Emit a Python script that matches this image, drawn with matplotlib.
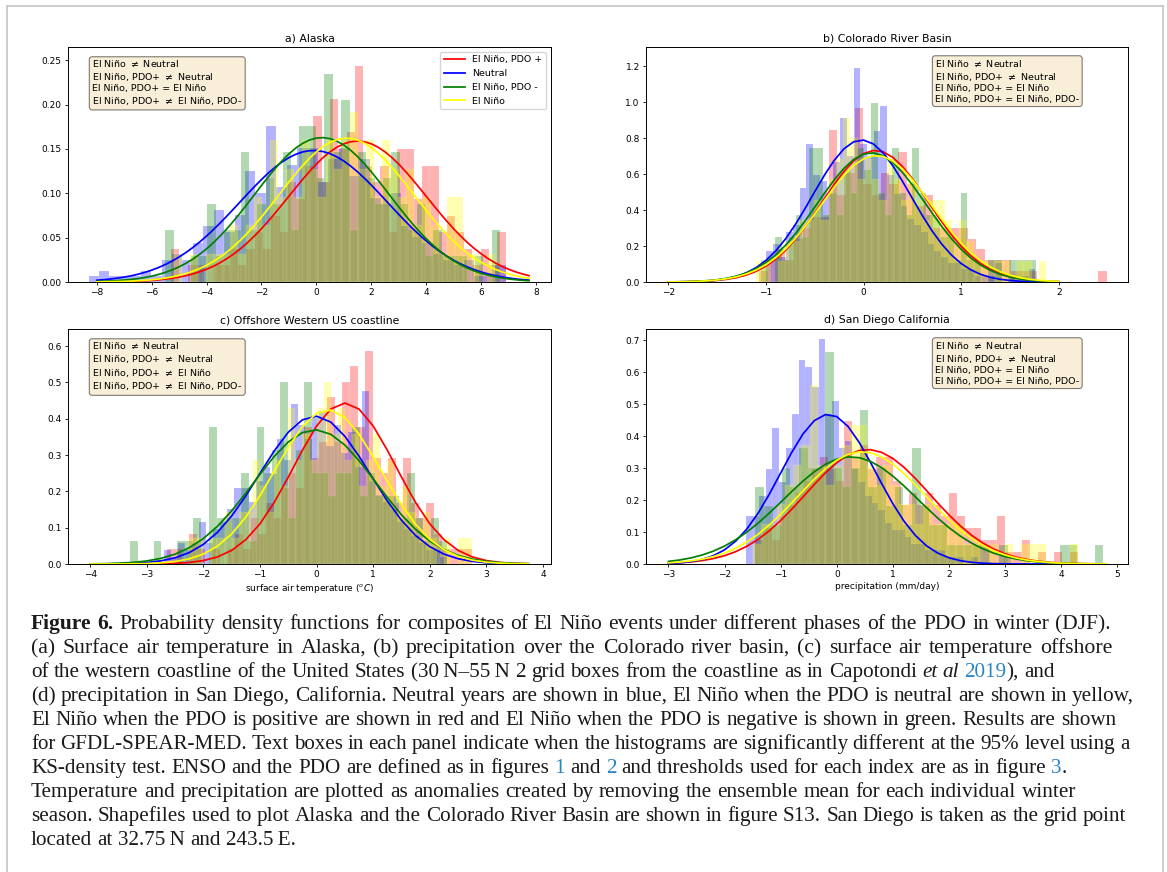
import re

import matplotlib
matplotlib.use("Agg")
import numpy as np
import matplotlib.pyplot as plt
from matplotlib.lines import Line2D


W_PX, H_PX = 1167, 872

SERIES_COLORS = ["red", "blue", "green", "yellow"]
LEGEND_LABELS = ["El Niño, PDO +", "Neutral", "El Niño, PDO -", "El Niño"]

# histogram counts (40 bins over each series' own range), order: red, blue, green, yellow
# a) Alaska
A_RED_LIM = (-5.3, 6.9)
A_RED = [2, 0, 1, 1, 0, 1, 1, 2, 1, 2, 3, 2, 4, 3, 6, 5, 7, 10, 6, 11,
         8, 9, 13, 7, 6, 7, 3, 8, 8, 5, 7, 7, 3, 4, 3, 2, 1, 2, 1, 3]
A_BLUE_LIM = (-8.3, 6.9)
A_BLUE = [1, 2, 1, 1, 1, 2, 1, 4, 5, 4, 7, 10, 13, 9, 12, 20, 16, 28, 17, 21,
          24, 24, 18, 22, 24, 19, 22, 15, 14, 16, 10, 8, 7, 5, 4, 3, 4, 1, 1, 3]
A_GREEN_LIM = (-5.5, 6.7)
A_GREEN = [2, 0, 0, 1, 1, 3, 1, 2, 2, 5, 2, 3, 4, 3, 5, 2, 6, 6, 4, 8,
           5, 7, 2, 5, 4, 3, 4, 5, 3, 2, 3, 1, 2, 1, 1, 1, 0, 1, 0, 2]
A_YELLOW_LIM = (-5.2, 6.5)
A_YELLOW = [1, 0, 1, 0, 1, 1, 1, 2, 1, 2, 3, 2, 5, 3, 4, 3, 5, 4, 3, 5,
            4, 5, 6, 4, 5, 3, 5, 4, 3, 4, 2, 3, 2, 1, 3, 3, 1, 1, 0, 1]
A_MEAN = [1.5, -0.1, 0.2, 1.1]
A_STD = [2.51, 2.69, 2.45, 2.46]

# b) Colorado River Basin
B_RED_LIM = (-1.07, 2.49)
B_RED = [1, 2, 3, 2, 4, 5, 6, 6, 14, 8, 10, 16, 9, 8, 10, 9, 12, 9, 7, 8,
         5, 5, 5, 5, 4, 3, 2, 2, 2, 1, 1, 1, 0, 0, 0, 0, 0, 0, 0, 1]
B_BLUE_LIM = (-1.0, 1.76)
B_BLUE = [5, 6, 4, 8, 9, 15, 22, 17, 16, 14, 19, 26, 20, 34, 22, 20, 24, 28, 17, 14,
          12, 10, 9, 8, 6, 5, 4, 3, 3, 2, 2, 1, 1, 1, 3, 0, 1, 0, 1, 2]
B_GREEN_LIM = (-1.05, 1.77)
B_GREEN = [1, 0, 2, 1, 2, 3, 2, 6, 6, 3, 4, 3, 5, 4, 6, 5, 8, 4, 3, 6,
           4, 3, 6, 4, 3, 3, 2, 2, 1, 4, 1, 1, 0, 1, 1, 0, 1, 1, 1, 1]
B_YELLOW_LIM = (-1.1, 1.87)
B_YELLOW = [1, 1, 0, 1, 2, 2, 3, 3, 4, 3, 5, 6, 8, 7, 5, 6, 5, 4, 6, 5,
            4, 5, 4, 3, 4, 4, 3, 2, 3, 2, 1, 1, 0, 1, 1, 0, 1, 1, 0, 1]
B_MEAN = [0.12, -0.02, 0.08, 0.13]
B_STD = [0.545, 0.505, 0.555, 0.567]

# c) Offshore Western US coastline
C_RED_LIM = (-2.65, 2.75)
C_RED = [1, 1, 0, 2, 1, 0, 1, 0, 1, 2, 1, 3, 2, 4, 3, 5, 6, 5, 9, 7,
         8, 11, 8, 12, 13, 9, 14, 7, 6, 7, 4, 7, 4, 3, 4, 2, 1, 1, 1, 1]
C_BLUE_LIM = (-2.7, 2.3)
C_BLUE = [2, 1, 3, 2, 3, 6, 3, 5, 6, 8, 11, 11, 9, 12, 14, 13, 18, 15, 23, 20,
          18, 21, 22, 17, 20, 16, 19, 14, 25, 12, 10, 9, 8, 6, 5, 4, 3, 2, 2, 1]
C_GREEN_LIM = (-3.3, 2.3)
C_GREEN = [1, 0, 0, 1, 0, 0, 1, 1, 2, 0, 6, 2, 2, 2, 4, 1, 6, 4, 5, 8,
           2, 5, 8, 4, 4, 3, 4, 4, 6, 3, 4, 3, 3, 3, 2, 4, 2, 1, 2, 1]
C_YELLOW_LIM = (-2.25, 2.75)
C_YELLOW = [1, 1, 0, 1, 1, 2, 1, 2, 2, 4, 3, 2, 4, 3, 6, 4, 5, 4, 6, 7,
            5, 6, 4, 5, 3, 4, 5, 3, 4, 2, 3, 2, 1, 2, 1, 0, 1, 0, 1, 1]
C_MEAN = [0.5, -0.03, -0.03, 0.2]
C_STD = [0.90, 0.98, 1.08, 0.94]

# d) San Diego California
D_RED_LIM = (-1.45, 4.3)
D_RED = [2, 3, 2, 4, 5, 6, 7, 8, 9, 8, 7, 12, 9, 10, 8, 9, 9, 7, 5, 6,
         5, 6, 5, 4, 6, 4, 3, 3, 2, 2, 4, 1, 1, 2, 0, 1, 0, 1, 0, 1]
D_BLUE_LIM = (-1.62, 3.1)
D_BLUE = [7, 7, 10, 14, 20, 12, 17, 22, 30, 29, 26, 33, 22, 24, 17, 18, 14, 12, 10, 9,
          8, 6, 5, 5, 4, 3, 3, 2, 2, 2, 1, 1, 1, 0, 1, 0, 0, 0, 0, 1]
D_GREEN_LIM = (-1.45, 4.75)
D_GREEN = [4, 3, 2, 5, 4, 6, 5, 5, 11, 5, 4, 5, 8, 4, 5, 3, 4, 2, 6, 3,
           2, 2, 1, 1, 1, 1, 1, 0, 1, 0, 0, 0, 0, 0, 0, 1, 1, 0, 0, 1]
D_YELLOW_LIM = (-1.5, 4.3)
D_YELLOW = [1, 2, 2, 3, 4, 5, 6, 9, 5, 4, 5, 6, 7, 7, 5, 4, 5, 4, 3, 3,
            2, 3, 2, 2, 2, 2, 1, 1, 0, 1, 0, 1, 0, 1, 1, 1, 0, 0, 0, 1]
D_MEAN = [0.55, -0.15, 0.25, 0.45]
D_STD = [1.114, 0.852, 1.19, 1.136]

NE = "$\\neq$"
A_NOTES = [f"El Niño {NE} Neutral", f"El Niño, PDO+ {NE} Neutral",
           "El Niño, PDO+ = El Niño", f"El Niño, PDO+ {NE} El Niño, PDO-"]
B_NOTES = [f"El Niño {NE} Neutral", f"El Niño, PDO+ {NE} Neutral",
           "El Niño, PDO+ = El Niño", "El Niño, PDO+ = El Niño, PDO-"]
C_NOTES = [f"El Niño {NE} Neutral", f"El Niño, PDO+ {NE} Neutral",
           f"El Niño, PDO+ {NE} El Niño", f"El Niño, PDO+ {NE} El Niño, PDO-"]
D_NOTES = [f"El Niño {NE} Neutral", f"El Niño, PDO+ {NE} Neutral",
           "El Niño, PDO+ = El Niño", "El Niño, PDO+ = El Niño, PDO-"]

CAPTION_FONT = "Liberation Serif"
LINK = "#2a86c0"
CAPTION = [
    [("Figure 6.", {"weight": "bold"}),
     (" Probability density functions for composites of El Niño events under different "
      "phases of the PDO in winter (DJF).", {})],
    [("(a) Surface air temperature in Alaska, (b) precipitation over the Colorado river "
      "basin, (c) surface air temperature offshore", {})],
    [("of the western coastline of the United States (30\u2009N\u201355\u2009N 2 grid boxes "
      "from the coastline as in Capotondi", {}),
     (" et al", {"style": "italic"}), (" 2019", {"color": LINK}), ("), and", {})],
    [("(d) precipitation in San Diego, California. Neutral years are shown in blue, El Niño "
      "when the PDO is neutral are shown in yellow,", {})],
    [("El Niño when the PDO is positive are shown in red and El Niño when the PDO is "
      "negative is shown in green. Results are shown", {})],
    [("for GFDL-SPEAR-MED. Text boxes in each panel indicate when the histograms are "
      "significantly different at the 95% level using a", {})],
    [("KS-density test. ENSO and the PDO are defined as in figures", {}),
     (" 1", {"color": LINK}), (" and", {}), (" 2", {"color": LINK}),
     (" and thresholds used for each index are as in figure", {}),
     (" 3", {"color": LINK}), (".", {})],
    [("Temperature and precipitation are plotted as anomalies created by removing the "
      "ensemble mean for each individual winter", {})],
    [("season. Shapefiles used to plot Alaska and the Colorado River Basin are shown in "
      "figure S13. San Diego is taken as the grid point", {})],
    [("located at 32.75\u2009N and 243.5\u2009E.", {})],
]
# right end (px) of each caption line on the page; None = natural width
CAPTION_LINE_ENDS = [1111, 1112, 1055, 1134, 1116, 1130, 1067, 1076, 1126, None]


def normal_pdf(x, mu, sd):
    return np.exp(-0.5 * ((x - mu) / sd) ** 2) / (sd * np.sqrt(2 * np.pi))


def px_axes(fig, left, top, right, bottom):
    return fig.add_axes([left / W_PX, 1 - bottom / H_PX,
                         (right - left) / W_PX, (bottom - top) / H_PX])


def draw_panel(ax, lims, counts, means, stds, fit_x, title, notes, note_x,
               xlim, ylim, xticks, yticks, xlabel=None, legend=False):
    for (lo, hi), cnt, color in zip(lims, counts, SERIES_COLORS):
        edges = np.linspace(lo, hi, len(cnt) + 1)
        centers = 0.5 * (edges[:-1] + edges[1:])
        ax.hist(centers, bins=edges, weights=cnt, density=True,
                color=color, alpha=0.3, ec="white", lw=0.2)
    for mu, sd, color, label in zip(means, stds, SERIES_COLORS, LEGEND_LABELS):
        ax.plot(fit_x, normal_pdf(fit_x, mu, sd), color=color, lw=1.25, label=label)

    ax.set_xlim(*xlim)
    ax.set_ylim(*ylim)
    ax.set_xticks(xticks)
    ax.set_yticks(yticks)
    ax.set_title(title, fontsize=7.8, pad=4)
    ax.tick_params(labelsize=6.5, length=2.5, width=0.6, pad=2)
    for sp in ax.spines.values():
        sp.set_linewidth(0.7)
    if xlabel:
        ax.set_xlabel(xlabel, fontsize=6.5, labelpad=2)

    ax.text(note_x, 0.95, "\n".join(notes), transform=ax.transAxes, va="top",
            ha="left", fontsize=6.8,
            bbox=dict(boxstyle="round", facecolor="wheat", alpha=0.5, lw=0.8))
    if legend:
        ax.legend(loc="upper right", fontsize=6.8, handlelength=2.2)


def caption_text(fig, x, y, text, size, style):
    return fig.text(x / W_PX, 1 - y / H_PX, text, family=CAPTION_FONT,
                    fontsize=size, ha="left", va="baseline",
                    color=style.get("color", "#1a1a1a"),
                    weight=style.get("weight", "normal"),
                    style=style.get("style", "normal"))


def text_width(fig, renderer, text, size, style):
    t = caption_text(fig, 0, 0, text, size, style)
    w = t.get_window_extent(renderer).width
    t.remove()
    return w


def layout_line(fig, renderer, pieces, y, size):
    words = []
    for text, style in pieces:
        for m in re.finditer(r"( ?)([^ ]+)", text):
            t = caption_text(fig, 0, y, m.group(2), size, style)
            words.append((t, bool(m.group(1)) and len(words) > 0,
                          t.get_window_extent(renderer).width))
    w_sp = text_width(fig, renderer, "n n", size, {}) - text_width(fig, renderer, "nn", size, {})
    n_gaps = sum(1 for _, sp, _ in words if sp)
    natural = sum(w for _, _, w in words) + n_gaps * w_sp
    return words, w_sp, n_gaps, natural


def draw_caption(fig):
    renderer = fig.canvas.get_renderer()
    # font size chosen so that line 4 spans the same width as on the page
    base = 14 * 1102 / text_width(fig, renderer, CAPTION[3][0][0], 14, {})

    x0, y0, step = 31, 629, 24
    for i, (pieces, end) in enumerate(zip(CAPTION, CAPTION_LINE_ENDS)):
        y = y0 + i * step
        words, w_sp, n_gaps, natural = layout_line(fig, renderer, pieces, y, base)
        if end is not None:
            # take half of the width difference up by a small size change,
            # the rest by word spacing
            ratio = (end - x0) / natural
            size = base * (1 + 0.5 * (ratio - 1))
            for t, _, _ in words:
                t.remove()
            words, w_sp, n_gaps, natural = layout_line(fig, renderer, pieces, y, size)
        extra = 0.0 if end is None or n_gaps == 0 else (end - x0 - natural) / n_gaps
        x = x0
        for t, sp, w in words:
            if sp:
                x += w_sp + extra
            t.set_x(x / W_PX)
            x += w


def main() -> None:
    fig = plt.figure(figsize=(W_PX / 100, H_PX / 100), dpi=100)
    fig.patch.set_facecolor("white")

    ax_a = px_axes(fig, 68, 47, 551, 282)
    draw_panel(ax_a, [A_RED_LIM, A_BLUE_LIM, A_GREEN_LIM, A_YELLOW_LIM],
               [A_RED, A_BLUE, A_GREEN, A_YELLOW], A_MEAN, A_STD,
               np.arange(-8, 8, 0.25), "a) Alaska", A_NOTES, 0.05,
               (-9.05, 8.55), (0, 0.265), np.arange(-8, 9, 2),
               np.arange(0, 0.26, 0.05), legend=True)
    ax_a.set_yticklabels([f"{v:.2f}" for v in np.arange(0, 0.26, 0.05)])

    ax_b = px_axes(fig, 646, 47, 1128, 282)
    draw_panel(ax_b, [B_RED_LIM, B_BLUE_LIM, B_GREEN_LIM, B_YELLOW_LIM],
               [B_RED, B_BLUE, B_GREEN, B_YELLOW], B_MEAN, B_STD,
               np.arange(-2, 2.01, 0.1), "b) Colorado River Basin", B_NOTES, 0.6,
               (-2.23, 2.71), (0, 1.307), np.arange(-2, 3, 1),
               np.arange(0, 1.21, 0.2))
    ax_b.set_yticklabels([f"{v:.1f}" for v in np.arange(0, 1.21, 0.2)])

    ax_c = px_axes(fig, 68, 329, 551, 564)
    draw_panel(ax_c, [C_RED_LIM, C_BLUE_LIM, C_GREEN_LIM, C_YELLOW_LIM],
               [C_RED, C_BLUE, C_GREEN, C_YELLOW], C_MEAN, C_STD,
               np.arange(-4, 3.76, 0.25), "c) Offshore Western US coastline",
               C_NOTES, 0.05, (-4.39, 4.14), (0, 0.647), np.arange(-4, 5, 1),
               np.arange(0, 0.61, 0.1), xlabel="surface air temperature ($^oC$)")
    ax_c.set_yticklabels([f"{v:.1f}" for v in np.arange(0, 0.61, 0.1)])

    ax_d = px_axes(fig, 646, 329, 1128, 564)
    draw_panel(ax_d, [D_RED_LIM, D_BLUE_LIM, D_GREEN_LIM, D_YELLOW_LIM],
               [D_RED, D_BLUE, D_GREEN, D_YELLOW], D_MEAN, D_STD,
               np.arange(-3, 4.81, 0.2), "d) San Diego California", D_NOTES, 0.6,
               (-3.4, 5.19), (0, 0.735), np.arange(-3, 6, 1),
               np.arange(0, 0.71, 0.1), xlabel="precipitation (mm/day)")
    ax_d.set_yticklabels([f"{v:.1f}" for v in np.arange(0, 0.71, 0.1)])

    draw_caption(fig)

    # page frame around the figure
    frame = dict(color="#c4c4c4", lw=1.2, transform=fig.transFigure)
    fig.add_artist(Line2D([7 / W_PX, 7 / W_PX], [0, 1 - 6 / H_PX], **frame))
    fig.add_artist(Line2D([1163 / W_PX, 1163 / W_PX], [0, 1 - 6 / H_PX], **frame))
    fig.add_artist(Line2D([7 / W_PX, 1163 / W_PX], [1 - 6 / H_PX, 1 - 6 / H_PX], **frame))

    fig.savefig("out.png", dpi=100)
    plt.close(fig)


if __name__ == "__main__":
    main()
